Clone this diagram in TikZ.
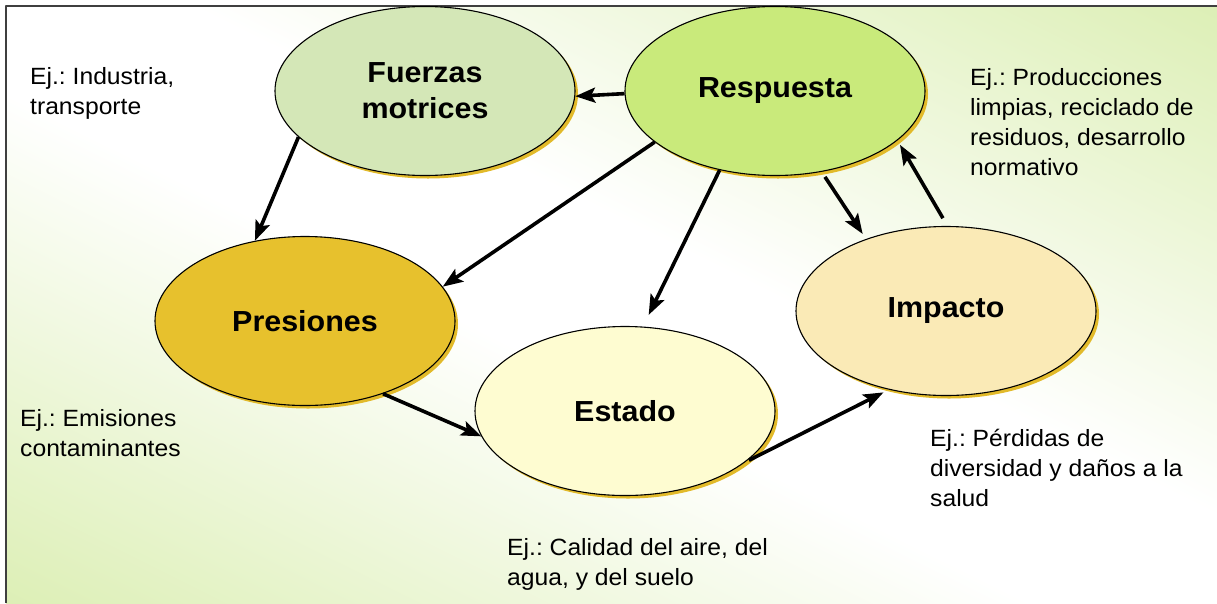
\documentclass[tikz,border=0pt]{standalone}
\usepackage{fontspec}
\setmainfont{Liberation Sans}[FakeStretch=1.05]
\usetikzlibrary{shapes.geometric,shadows,arrows.meta}
\definecolor{bggreen}{HTML}{C9E68C}
\definecolor{framegray}{HTML}{3F3F3F}
\definecolor{shadowgold}{HTML}{E2BA2A}
\definecolor{fmgreen}{HTML}{D4E7B7}
\definecolor{regreen}{HTML}{C9EA7B}
\definecolor{prgold}{HTML}{E7C12D}
\definecolor{esyellow}{HTML}{FEFCD1}
\definecolor{imbeige}{HTML}{FAEAB6}
\pgfdeclareverticalshading{bgshade}{100bp}{color(0bp)=(bggreen); color(45bp)=(white); color(55bp)=(white); color(100bp)=(bggreen)}
\frenchspacing
\begin{document}
\begin{tikzpicture}[x=1pt,y=-1pt,line join=round,>={Stealth[length=20pt,width=15pt,inset=4pt]}]
    \tikzset{
        blob/.style={ellipse,draw,line width=1.1pt,minimum width=300pt,minimum height=169pt,inner sep=0pt,
            align=center,font=\fontsize{29}{36}\selectfont\bfseries,
            drop shadow={shadow xshift=3pt,shadow yshift=-3pt,fill=shadowgold,opacity=1}},
        note/.style={anchor=base west,align=left,inner sep=0pt,font=\fontsize{23.5}{30}\selectfont},
        link/.style={->,line width=3.6pt}
    }
    \useasboundingbox (0,0) rectangle (1217,603);
    \shade[shading=bgshade,shading angle=-26.4] (6,6) rectangle (1217,603);
    \draw[framegray,line width=2pt] (6,603) -- (6,6) -- (1217,6);
    % the five stages
    \node[blob,fill=fmgreen] (fm) at (425,91) {Fuerzas\\motrices};
    \node[blob,fill=regreen] (re) at (775,91) {Respuesta};
    \node[blob,fill=prgold] (pr) at (305,321) {Presiones};
    \node[blob,fill=esyellow] (es) at (625,411) {Estado};
    \node[blob,fill=imbeige] (im) at (946,311) {Impacto};
    % examples (placed by the baseline of their last line)
    \node[note] (ejfm) at (30,114) {Ej.: Industria,\\transporte};
    \node[note] (ejre) at (970,175) {Ej.: Producciones\\limpias, reciclado de\\residuos, desarrollo\\normativo};
    \node[note] (ejpr) at (20,456) {Ej.: Emisiones\\contaminantes};
    \node[note] (ejim) at (930,506) {Ej.: Pérdidas de\\diversidad y daños a la\\salud};
    \node[note] (ejes) at (507,585) {Ej.: Calidad del aire, del\\agua, y del suelo};
    % links
    \draw[link] (re.181.5) -- (fm.358.5);
    \draw[link] (fm.200.5) -- (pr.122.7);
    \draw[link] (re.203.4) -- (pr.14);
    \draw[link,shorten >=13pt] (re.235) -- (es.78.5);
    \draw[link,shorten <=6pt,shorten >=6pt] (re.300) -- (im.138);
    \draw[link,shorten <=9pt,shorten >=5pt] (im.89) -- (re.338);
    \draw[link] (pr.317.2) -- (es.190.4);
    \draw[link,shorten <=4pt,shorten >=6pt] (es.337.3) -- (im.234);
\end{tikzpicture}
\end{document}
